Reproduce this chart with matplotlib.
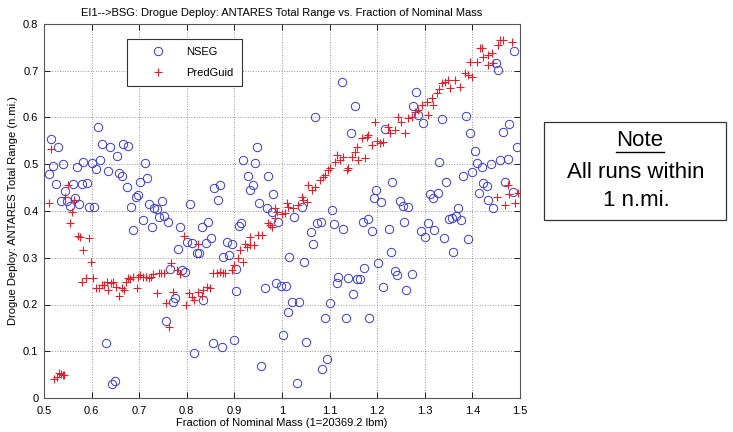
import numpy as np
import matplotlib
matplotlib.use("Agg")
import matplotlib.pyplot as plt
from matplotlib.patches import Rectangle
from matplotlib.lines import Line2D

plt.rcParams['font.family'] = ['Liberation Sans', 'DejaVu Sans']

# NSEG runs: (fraction of nominal mass, total range n.mi.)
nseg_pts = [
    (0.515, 0.554), (0.529, 0.537), (0.51, 0.479), (0.519, 0.496), (0.525, 0.458),
    (0.54, 0.5), (0.544, 0.443), (0.536, 0.421), (0.548, 0.421), (0.555, 0.411),
    (0.561, 0.458), (0.569, 0.494), (0.565, 0.428), (0.574, 0.415), (0.582, 0.505),
    (0.58, 0.458), (0.59, 0.46), (0.595, 0.409), (0.601, 0.503), (0.605, 0.409),
    (0.609, 0.49), (0.613, 0.58), (0.618, 0.509), (0.622, 0.543), (0.634, 0.486),
    (0.639, 0.537), (0.653, 0.518), (0.658, 0.481), (0.664, 0.475), (0.666, 0.543),
    (0.676, 0.539), (0.674, 0.451), (0.683, 0.409), (0.687, 0.359), (0.693, 0.43),
    (0.697, 0.434), (0.702, 0.462), (0.712, 0.503), (0.716, 0.471), (0.708, 0.381),
    (0.72, 0.415), (0.727, 0.366), (0.731, 0.406), (0.737, 0.404), (0.748, 0.421),
    (0.742, 0.387), (0.752, 0.389), (0.761, 0.376), (0.786, 0.366), (0.8, 0.334),
    (0.807, 0.415), (0.811, 0.332), (0.832, 0.366), (0.845, 0.376), (0.851, 0.342),
    (0.84, 0.332), (0.857, 0.449), (0.865, 0.424), (0.87, 0.456), (0.884, 0.334),
    (0.895, 0.329), (0.91, 0.368), (0.914, 0.374), (0.918, 0.509), (0.929, 0.475),
    (0.933, 0.445), (0.939, 0.456), (0.943, 0.503), (0.947, 0.537), (0.952, 0.417),
    (0.968, 0.406), (0.971, 0.475), (0.979, 0.398), (0.981, 0.436), (0.992, 0.376),
    (0.782, 0.319), (0.821, 0.31), (0.825, 0.31), (0.876, 0.302), (0.888, 0.306),
    (1.014, 0.302), (0.765, 0.276), (0.79, 0.274), (0.796, 0.27), (0.903, 0.276),
    (0.903, 0.229), (0.964, 0.235), (0.987, 0.246), (0.998, 0.24), (1.008, 0.24),
    (0.771, 0.205), (0.775, 0.214), (0.834, 0.21), (1.013, 0.184), (0.756, 0.165),
    (0.63, 0.118), (0.855, 0.118), (0.874, 0.109), (0.899, 0.124), (0.815, 0.096),
    (1.002, 0.135), (0.956, 0.068), (0.643, 0.03), (0.649, 0.036),
    (1.065, 0.329), (1.046, 0.291), (1.229, 0.312), (1.202, 0.289), (1.172, 0.278),
    (1.359, 0.312), (1.118, 0.259), (1.115, 0.246), (1.139, 0.257), (1.158, 0.255),
    (1.164, 0.255), (1.212, 0.237), (1.237, 0.272), (1.242, 0.263), (1.273, 0.265),
    (1.261, 0.231), (1.149, 0.222), (1.021, 0.205), (1.036, 0.205), (1.101, 0.203),
    (1.09, 0.171), (1.134, 0.171), (1.182, 0.171), (1.05, 0.12), (1.095, 0.083),
    (1.084, 0.062), (1.031, 0.032),
    (1.153, 0.625), (1.069, 0.601), (1.281, 0.655), (1.275, 0.625), (1.286, 0.605),
    (1.296, 0.588), (1.336, 0.597), (1.387, 0.603), (1.395, 0.567), (1.477, 0.586),
    (1.464, 0.569), (1.145, 0.567), (1.216, 0.575), (1.494, 0.537), (1.406, 0.528),
    (1.33, 0.505), (1.41, 0.503), (1.42, 0.494), (1.439, 0.501), (1.458, 0.509),
    (1.475, 0.511), (1.399, 0.483), (1.38, 0.475), (1.345, 0.462), (1.422, 0.46),
    (1.43, 0.453), (1.468, 0.462), (1.485, 0.441), (1.414, 0.438), (1.433, 0.424),
    (1.443, 0.406), (1.231, 0.462), (1.197, 0.445), (1.193, 0.428), (1.208, 0.419),
    (1.248, 0.421), (1.254, 0.411), (1.265, 0.409), (1.311, 0.436), (1.317, 0.428),
    (1.327, 0.438), (1.37, 0.406), (1.105, 0.402), (1.042, 0.409), (1.025, 0.387),
    (1.074, 0.374), (1.082, 0.376), (1.109, 0.372), (1.128, 0.361), (1.17, 0.376),
    (1.18, 0.383), (1.189, 0.357), (1.224, 0.361), (1.257, 0.376), (1.292, 0.357),
    (1.307, 0.374), (1.301, 0.344), (1.319, 0.359), (1.34, 0.342), (1.351, 0.383),
    (1.357, 0.385), (1.366, 0.389), (1.376, 0.381), (1.391, 0.34), (1.061, 0.355),
    (1.45, 0.717), (1.454, 0.701), (1.487, 0.742), (1.126, 0.676),
]

# PredGuid runs
pred_pts = [
    (0.515, 0.533), (0.51, 0.417), (0.521, 0.041), (0.527, 0.045), (0.532, 0.053),
    (0.536, 0.051), (0.54, 0.049), (0.542, 0.049), (0.55, 0.456), (0.544, 0.43),
    (0.563, 0.424), (0.559, 0.398), (0.555, 0.375), (0.571, 0.346), (0.575, 0.345),
    (0.594, 0.342), (0.582, 0.316), (0.599, 0.291), (0.58, 0.248), (0.588, 0.257),
    (0.603, 0.257), (0.609, 0.235), (0.616, 0.235), (0.622, 0.242), (0.626, 0.241),
    (0.632, 0.248), (0.634, 0.231), (0.641, 0.246), (0.645, 0.248), (0.651, 0.237),
    (0.658, 0.218), (0.664, 0.235), (0.668, 0.231), (0.672, 0.248), (0.676, 0.257),
    (0.68, 0.255), (0.687, 0.259), (0.695, 0.235), (0.697, 0.259), (0.702, 0.263),
    (0.707, 0.259), (0.714, 0.259), (0.72, 0.257), (0.725, 0.259), (0.729, 0.265),
    (0.737, 0.225), (0.742, 0.267), (0.746, 0.267), (0.752, 0.267), (0.756, 0.203),
    (0.763, 0.152), (0.767, 0.289), (0.771, 0.227), (0.779, 0.274), (0.786, 0.265),
    (0.798, 0.199), (0.805, 0.225), (0.811, 0.216), (0.815, 0.21), (0.823, 0.227),
    (0.832, 0.218), (0.834, 0.231), (0.842, 0.237), (0.849, 0.235), (0.855, 0.267),
    (0.863, 0.267), (0.87, 0.27), (0.876, 0.267), (0.88, 0.267), (0.895, 0.274),
    (0.9, 0.285), (0.907, 0.3), (0.918, 0.291), (0.912, 0.317), (0.926, 0.323),
    (0.933, 0.327), (0.941, 0.327), (0.824, 0.329), (0.794, 0.346), (0.922, 0.329),
    (0.933, 0.344), (0.95, 0.349), (0.957, 0.348), (0.971, 0.374), (0.975, 0.37),
    (0.985, 0.406), (1.0, 0.394), (1.01, 0.417),
    (0.979, 0.366), (0.985, 0.385), (0.99, 0.398), (1.006, 0.396), (1.013, 0.409),
    (1.023, 0.406), (1.034, 0.413), (1.042, 0.43), (1.044, 0.424), (1.052, 0.419),
    (1.055, 0.456), (1.063, 0.445), (1.069, 0.451), (1.08, 0.466), (1.086, 0.473),
    (1.09, 0.477), (1.097, 0.488), (1.1, 0.492), (1.111, 0.505), (1.115, 0.52),
    (1.122, 0.509), (1.128, 0.516), (1.137, 0.488), (1.139, 0.492), (1.147, 0.516),
    (1.153, 0.526), (1.158, 0.537), (1.16, 0.509), (1.168, 0.556), (1.175, 0.513),
    (1.178, 0.558), (1.181, 0.563), (1.189, 0.541), (1.195, 0.59), (1.2, 0.55),
    (1.206, 0.545), (1.212, 0.548), (1.223, 0.58), (1.227, 0.567), (1.237, 0.573),
    (1.244, 0.601), (1.25, 0.59), (1.258, 0.567), (1.265, 0.599), (1.273, 0.601),
    (1.28, 0.612), (1.285, 0.616), (1.294, 0.627), (1.305, 0.633), (1.307, 0.605),
    (1.315, 0.642), (1.317, 0.627), (1.325, 0.652), (1.33, 0.66), (1.336, 0.674),
    (1.342, 0.676), (1.349, 0.68), (1.353, 0.663), (1.363, 0.68), (1.374, 0.665),
    (1.384, 0.695), (1.39, 0.69), (1.399, 0.687), (1.395, 0.719), (1.41, 0.719),
    (1.416, 0.749), (1.42, 0.749), (1.422, 0.73), (1.433, 0.734), (1.441, 0.738),
    (1.443, 0.717), (1.433, 0.712), (1.454, 0.755), (1.458, 0.766), (1.464, 0.766),
    (1.483, 0.761),
    (1.452, 0.43), (1.468, 0.413), (1.475, 0.456), (1.477, 0.436), (1.489, 0.417),
    (1.496, 0.438),
]

nseg_x, nseg_y = np.array(nseg_pts).T
pred_x, pred_y = np.array(pred_pts).T

xticks = np.arange(0.5, 1.51, 0.1)
yticks = np.arange(0, 0.81, 0.1)
W, H = 733, 432

fig = plt.figure(figsize=(7.33, 4.32), dpi=100)
ax = fig.add_axes([44 / W, 1 - 398 / H, 476 / W, 374 / H])

ax.plot(nseg_x, nseg_y, 'o', ls='none', ms=6, mfc='none', mec='#3a3acc', mew=0.7, label='NSEG')
ax.plot(pred_x, pred_y, '+', ls='none', ms=6, color='#e0202a', mew=0.8, label='PredGuid')

ax.set_xlim(0.5, 1.5)
ax.set_ylim(0, 0.8)
ax.set_xticks(xticks)
ax.set_xticklabels(['0.5', '0.6', '0.7', '0.8', '0.9', '1', '1.1', '1.2', '1.3', '1.4', '1.5'])
ax.set_yticks(yticks)
ax.set_yticklabels(['0', '0.1', '0.2', '0.3', '0.4', '0.5', '0.6', '0.7', '0.8'])
ax.tick_params(direction='in', length=4, width=0.6, labelsize=8, top=True, right=True)
ax.tick_params(axis='x', pad=6)
ax.tick_params(axis='y', pad=4)
ax.grid(True, ls=':', color='#999999', lw=0.7)
for s in ax.spines.values():
    s.set_color('#555555')
    s.set_linewidth(0.8)

ax.set_title('EI1-->BSG: Drogue Deploy: ANTARES Total Range vs. Fraction of Nominal Mass', fontsize=8, pad=6)
ax.set_xlabel('Fraction of Nominal Mass (1=20369.2 lbm)', fontsize=8, labelpad=1)
ax.set_ylabel('Drogue Deploy: ANTARES Total Range (n.mi.)', fontsize=8, labelpad=4)

leg = ax.legend(loc='upper left', bbox_to_anchor=(127 / W, 1 - 39 / H), bbox_transform=fig.transFigure,
                fontsize=8, frameon=True, fancybox=False, framealpha=1, edgecolor='#333333',
                borderpad=0.75, handlelength=4.0, handletextpad=0.6, labelspacing=0.95, borderaxespad=0)
leg.get_frame().set_linewidth(0.8)
leg.get_frame().set_width(124)

# note box at right
fig.add_artist(Rectangle((544 / W, 1 - 220 / H), 182 / W, 98 / H, transform=fig.transFigure,
                         fill=False, edgecolor='#333333', lw=0.9))
fig.text(640 / W, 1 - 140 / H, 'Note', ha='center', va='center', fontsize=16)
fig.add_artist(Line2D([616 / W, 664 / W], [1 - 152 / H, 1 - 152 / H], transform=fig.transFigure,
                      color='black', lw=1.0))
fig.text(636 / W, 1 - 173 / H, 'All runs within', ha='center', va='center', fontsize=16)
fig.text(636 / W, 1 - 200 / H, '1 n.mi.', ha='center', va='center', fontsize=16)

fig.savefig('out.png', dpi=100)
